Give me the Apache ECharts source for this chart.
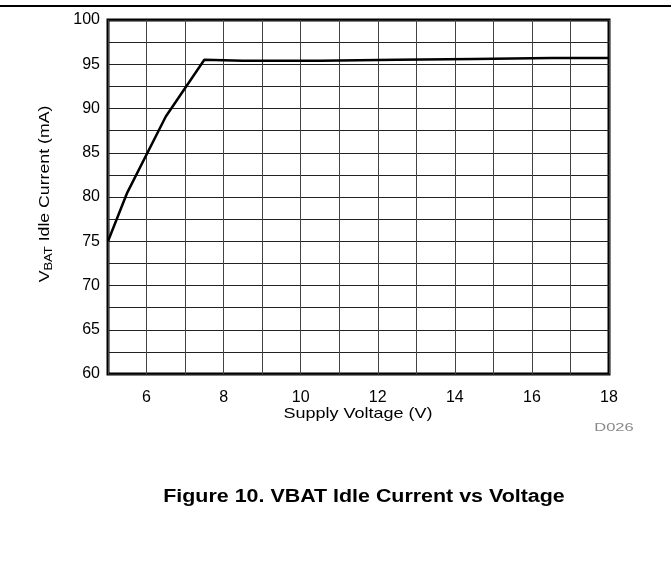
<!DOCTYPE html>
<html><head><meta charset="utf-8">
<script src="https://cdn.jsdelivr.net/npm/echarts@6/dist/echarts.min.js"></script>
<style>html,body{margin:0;padding:0;background:#fff}#c{width:671px;height:566px}</style>
</head><body><div id="c"></div>
<script>
const voltage = [5, 5.5, 6.5, 7.5, 8.5, 10.5, 12.5, 14.5, 16.5, 18];
const current = [75, 80.5, 89.1, 95.5, 95.4, 95.4, 95.5, 95.6, 95.7, 95.7];
const xLabels = [6, 8, 10, 12, 14, 16, 18];
const yLabels = [60, 65, 70, 75, 80, 85, 90, 95, 100];

const chart = echarts.init(document.getElementById('c'), null, {renderer: 'canvas'});
const font = 'Liberation Sans, Arial, sans-serif';
chart.setOption({
  animation: false,
  grid: {left: 108, right: 62, top: 20, bottom: 192, show: true, borderColor: '#000', borderWidth: 3, backgroundColor: 'transparent'},
  xAxis: {
    type: 'value', min: 5, max: 18, interval: 1,
    axisLine: {show: false}, axisTick: {show: false},
    splitLine: {show: true, lineStyle: {color: '#444', width: 1}},
    axisLabel: {fontFamily: font, fontSize: 16, color: '#000', margin: 16,
      formatter: v => xLabels.includes(v) ? String(v) : ''}
  },
  yAxis: {
    type: 'value', min: 60, max: 100, interval: 2.5,
    axisLine: {show: false}, axisTick: {show: false},
    splitLine: {show: true, lineStyle: {color: '#222', width: 1}},
    axisLabel: {fontFamily: font, fontSize: 16, color: '#000', margin: 8,
      formatter: v => yLabels.includes(v) ? String(v) : ''}
  },
  series: [{
    type: 'line', data: voltage.map((v, i) => [v, current[i]]),
    showSymbol: false, lineStyle: {color: '#000', width: 2.5}
  }],
  graphic: [
    {type: 'line', shape: {x1: 0, y1: 6, x2: 671, y2: 6}, style: {stroke: '#000', lineWidth: 2}},
    {type: 'text', x: 358, y: 414, scaleX: 1.2, style: {text: 'Supply Voltage (V)', fontFamily: font, fontSize: 15, fill: '#000', align: 'center', verticalAlign: 'middle'}},
    {type: 'text', x: 45, y: 194, rotation: Math.PI / 2, scaleX: 1.18, style: {
      text: '{a|V}{b|BAT}{a| Idle Current (mA)}', align: 'center', verticalAlign: 'middle',
      rich: {
        a: {fontFamily: font, fontSize: 15, fill: '#000', lineHeight: 18},
        b: {fontFamily: font, fontSize: 11, fill: '#000', padding: [8, 0, 0, 0], lineHeight: 18}
      }}},
    {type: 'text', x: 614, y: 428, scaleX: 1.5, style: {text: 'D026', fontFamily: font, fontSize: 11, fill: '#888', align: 'center', verticalAlign: 'middle'}},
    {type: 'text', x: 364, y: 497, scaleX: 1.19, style: {text: 'Figure 10. VBAT Idle Current vs Voltage', fontFamily: font, fontSize: 18, fontWeight: 'bold', fill: '#000', align: 'center', verticalAlign: 'middle'}}
  ]
});
</script></body></html>
